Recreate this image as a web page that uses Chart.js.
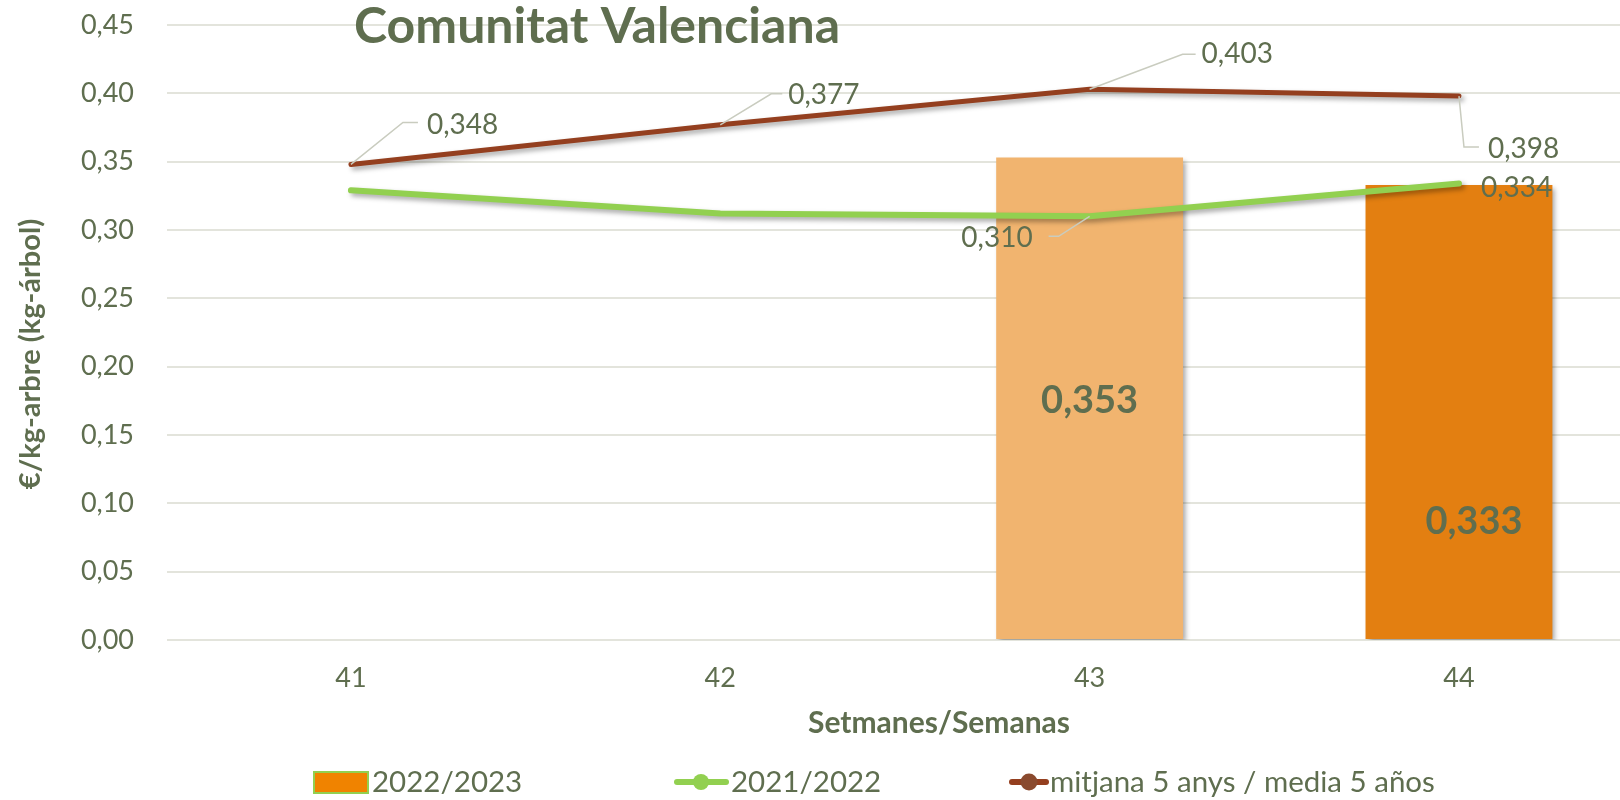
<!DOCTYPE html>
<html><head><meta charset="utf-8">
<script src="https://cdn.jsdelivr.net/npm/chart.js@4.4.1/dist/chart.umd.min.js"></script>
<style>html,body{margin:0;padding:0;background:#fff}#wrap{width:1620px;height:800px;position:relative}</style>
</head><body><div id="wrap"><canvas id="c" width="1620" height="800"></canvas></div>
<script>
// ---- data ----
const weeks = [41, 42, 43, 44];
const season2022_2023 = [null, null, 0.353, 0.333];
const season2021_2022 = [0.329, 0.312, 0.310, 0.334];
const average5y = [0.348, 0.377, 0.403, 0.398];
const seriesNames = ['2022/2023', '2021/2022', 'mitjana 5 anys / media 5 años'];
const chartTitle = 'Comunitat Valenciana';
const yTitle = '€/kg-arbre (kg-árbol)';
const xTitle = 'Setmanes/Semanas';

// ---- styles ----
const TXT = '#5F6E4F';
const FONT = 'Lato, "Open Sans", sans-serif';
const GREEN = '#92D050', BROWN = '#943F1F';
const BAR_COLORS = ['#F1B46F', '#F1B46F', '#F1B46F', '#E37F11'];
const fmt = v => v.toFixed(3).replace('.', ',');

// label placement (pixel offsets from the data point)
const labelLayout = {
  1: { 2: {dx:-57, dy:22, align:'right', leader:[[-31,20],[-41,20]]},
       3: {dx:22, dy:4, align:'left'} },
  2: { 0: {dx:76, dy:-39, align:'left', leader:[[52,-42],[67,-42]]},
       1: {dx:68, dy:-30, align:'left', leader:[[51,-31],[62,-31]]},
       2: {dx:112, dy:-35, align:'left', leader:[[93,-35],[106,-35]]},
       3: {dx:29, dy:53, align:'left', leader:[[5,51],[20,51]]} }
};
const barLabelOffset = {2:{dx:0, dy:2}, 3:{dx:15, dy:110}};

const shadowPlugin = {
  id: 'shadow',
  beforeDatasetDraw(chart) {
    const c = chart.ctx; c.save();
    c.shadowColor = 'rgba(0,0,0,0.35)'; c.shadowBlur = 5; c.shadowOffsetX = 3; c.shadowOffsetY = 3;
  },
  afterDatasetDraw(chart) { chart.ctx.restore(); }
};

const labelPlugin = {
  id: 'labels',
  afterDatasetsDraw(chart) {
    const c = chart.ctx;
    c.save();
    c.textBaseline = 'middle';
    [1, 2].forEach(di => {
      const meta = chart.getDatasetMeta(di);
      const vals = di === 1 ? season2021_2022 : average5y;
      Object.keys(labelLayout[di]).forEach(k => {
        const i = +k, L = labelLayout[di][i];
        const p = meta.data[i];
        if (L.leader) {
          c.strokeStyle = '#C9CCBF'; c.lineWidth = 1.5;
          c.beginPath(); c.moveTo(p.x, p.y);
          L.leader.forEach(([dx, dy]) => c.lineTo(p.x + dx, p.y + dy));
          c.stroke();
        }
        c.fillStyle = TXT; c.font = '28px ' + FONT; c.textAlign = L.align;
        c.fillText(fmt(vals[i]), p.x + L.dx, p.y + L.dy);
      });
    });
    const bm = chart.getDatasetMeta(0);
    c.font = 'bold 38px ' + FONT; c.textAlign = 'center'; c.fillStyle = TXT;
    season2022_2023.forEach((v, i) => {
      if (v == null) return;
      const b = bm.data[i], o = barLabelOffset[i];
      c.fillText(fmt(v), b.x + o.dx, (b.y + b.base) / 2 + o.dy);
    });
    c.restore();
  },
  afterDraw(chart) {
    const c = chart.ctx;
    c.save();
    c.fillStyle = TXT; c.textBaseline = 'middle';
    c.font = 'bold 50px ' + FONT; c.textAlign = 'center';
    c.fillText(chartTitle, 597, 27);
    c.font = 'bold 30px ' + FONT;
    c.fillText(xTitle, 939, 723);
    c.font = 'bold 29px ' + FONT;
    c.save(); c.translate(31, 354); c.rotate(-Math.PI / 2);
    c.fillText(yTitle, 0, 0); c.restore();
    // legend
    const ly = 782;
    c.fillStyle = '#F08300'; c.fillRect(314, ly - 10, 54, 21);
    c.strokeStyle = GREEN; c.lineWidth = 2; c.strokeRect(314, ly - 10, 54, 21);
    c.strokeStyle = GREEN; c.lineWidth = 6; c.lineCap = 'round';
    c.beginPath(); c.moveTo(677, ly); c.lineTo(726, ly); c.stroke();
    c.fillStyle = GREEN; c.beginPath(); c.arc(701, ly, 8, 0, Math.PI * 2); c.fill();
    c.strokeStyle = BROWN; c.lineWidth = 6;
    c.beginPath(); c.moveTo(1012, ly); c.lineTo(1046, ly); c.stroke();
    c.fillStyle = '#8A4A2E'; c.beginPath(); c.arc(1029, ly, 8.5, 0, Math.PI * 2); c.fill();
    c.fillStyle = TXT; c.font = '29.5px ' + FONT; c.textAlign = 'left';
    c.fillText(seriesNames[0], 372, ly);
    c.fillText(seriesNames[1], 731, ly);
    c.fillText(seriesNames[2], 1050, ly);
    c.restore();
  }
};

const toXY = arr => weeks.map((w, i) => ({x: w, y: arr[i]}));

new Chart(document.getElementById('c'), {
  type: 'bar',
  data: {
    datasets: [
      {type: 'bar', label: seriesNames[0], data: toXY(season2022_2023),
       backgroundColor: BAR_COLORS, barPercentage: 0.506, categoryPercentage: 1, order: 3},
      {type: 'line', label: seriesNames[1], data: toXY(season2021_2022),
       borderColor: GREEN, borderWidth: 6, pointRadius: 0, borderCapStyle: 'round',
       borderJoinStyle: 'round', tension: 0, order: 2},
      {type: 'line', label: seriesNames[2], data: toXY(average5y),
       borderColor: BROWN, borderWidth: 5, pointRadius: 0, borderCapStyle: 'round',
       borderJoinStyle: 'round', tension: 0, order: 1}
    ]
  },
  options: {
    responsive: false, animation: false, devicePixelRatio: 1,
    layout: {padding: {top: 25, left: 0, right: 0, bottom: 0}},
    plugins: {legend: {display: false}, tooltip: {enabled: false}, title: {display: false}},
    scales: {
      x: {
        type: 'linear', min: 40.502, max: 44.436, offset: false,
        grid: {display: false, drawTicks: false}, border: {display: false},
        afterBuildTicks: s => { s.ticks = weeks.map(v => ({value: v})); },
        ticks: {callback: v => String(v), color: TXT, font: {family: FONT, size: 27}, padding: 22, autoSkip: false, maxRotation: 0},
        afterFit: s => { s.height = 160; s.paddingLeft = 0; s.paddingRight = 0; }
      },
      y: {
        min: 0, max: 0.45,
        grid: {color: '#E3E4DC', lineWidth: 2, drawTicks: false}, border: {display: false},
        ticks: {stepSize: 0.05, callback: v => v.toFixed(2).replace('.', ','), color: TXT,
                font: {family: FONT, size: 27}, padding: 33},
        afterFit: s => { s.width = 167; s.paddingTop = 0; s.paddingBottom = 0; }
      }
    }
  },
  plugins: [shadowPlugin, labelPlugin]
});
</script></body></html>
